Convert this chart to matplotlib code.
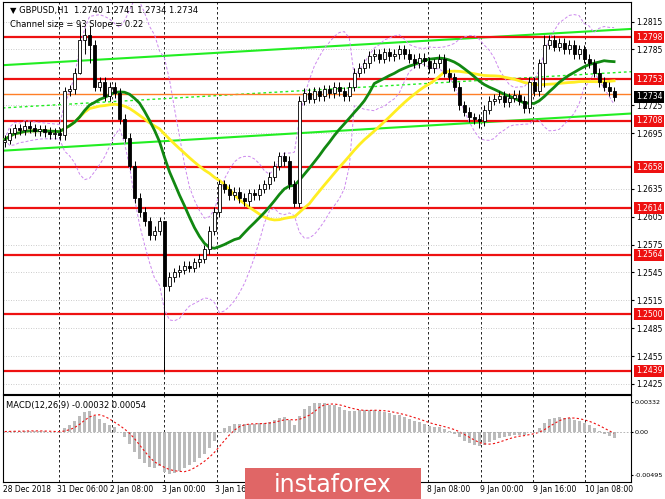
import numpy as np
import pandas as pd
import matplotlib
matplotlib.use("Agg")
import matplotlib.pyplot as plt
from matplotlib.patches import Rectangle

closes = [1.2688,1.2695,1.2700,1.2698,1.2703,1.2700,1.2697,1.2699,1.2696,1.2694,1.2695,1.2693,
          1.2740,1.2742,1.2760,1.2795,1.2800,1.2790,
          1.2745,1.2750,1.2735,1.2745,1.2738,
          1.2710,1.2690,1.2660,1.2625,1.2610,1.2600,1.2585,1.2590,1.2600,
          1.2530,1.2540,1.2545,1.2548,1.2552,1.2550,1.2556,1.2560,
          1.2570,1.2590,1.2610,1.2640,1.2635,1.2628,1.2632,1.2625,
          1.2622,1.2630,1.2628,1.2635,1.2640,1.2648,1.2660,1.2670,1.2665,1.2640,1.2620,
          1.2730,1.2738,1.2732,1.2740,1.2735,1.2742,1.2738,1.2745,1.2740,1.2735,
          1.2745,1.2760,1.2765,1.2770,1.2778,1.2780,1.2775,1.2782,1.2778,1.2780,1.2785,
          1.2780,1.2775,1.2770,1.2776,1.2772,1.2765,1.2770,1.2775,1.2760,1.2755,1.2745,
          1.2725,1.2718,1.2712,1.2710,1.2708,1.2720,
          1.2730,1.2732,1.2735,1.2728,1.2733,1.2736,1.2730,1.2722,
          1.2750,1.2740,1.2770,1.2790,
          1.2795,1.2788,1.2792,1.2785,1.2790,1.2780,1.2785,1.2775,1.2770,
          1.2760,1.2750,1.2745,1.2740,1.2734]
first_open = 1.2685
extremes = {15: (1.2812, 1.2758), 16: (1.2808, 1.2780), 32: (1.2600, 1.2439), 17: (1.2810, 1.2770),
            59: (1.2735, 1.2615), 108: (1.2800, 1.2745), 95: (1.2715, 1.2700)}
levels = [1.2798, 1.2753, 1.2708, 1.2658, 1.2614, 1.2564, 1.2500, 1.2439]
current = 1.2734
yticks = [1.2815,1.2785,1.2725,1.2695,1.2635,1.2605,1.2575,1.2545,1.2515,1.2485,1.2455,1.2425]
date_labels = ["28 Dec 2018","31 Dec 06:00","2 Jan 08:00","3 Jan 00:00","3 Jan 16:00",
               "8 Jan 08:00","9 Jan 00:00","9 Jan 16:00","10 Jan 08:00"]
date_px = [3, 57, 110, 162, 215, 427, 480, 533, 585]

c = np.array(closes)
o = np.concatenate([[first_open], c[:-1]])
n = len(c)
hi = np.maximum(o, c) + 0.0005
lo = np.minimum(o, c) - 0.0005
for k, (h, l) in extremes.items():
    hi[k] = h; lo[k] = l
x = np.arange(n)
px2x = lambda p: (p - 2) / 612 * (n - 1)

s = pd.Series(c)
ma_g = s.rolling(16, min_periods=1).mean()
ma_y = s.rolling(30, min_periods=1).mean()
bb_m = s.rolling(12, min_periods=1).mean()
bb_s = s.rolling(12, min_periods=1).std().fillna(0)
macd = s.ewm(span=7).mean() - s.ewm(span=16).mean()
sig = macd.rolling(5, min_periods=1).mean()

fig = plt.figure(figsize=(6.65, 4.99), dpi=100)
R = 631 / 665
ax = fig.add_axes([0.004, 0.21, R - 0.004, 0.786])
ax2 = fig.add_axes([0.004, 0.034, R - 0.004, 0.174])
xmin, xmax = px2x(0), px2x(631)
for a in (ax, ax2):
    a.set_xlim(xmin, xmax)
    a.set_xticks([])
    for sp in a.spines.values():
        sp.set_color("black"); sp.set_linewidth(0.8)
    for p in date_px[1:]:
        a.axvline(px2x(p), color="black", ls=(0, (3, 3)), lw=0.6, zorder=0)

ax.set_ylim(1.2414, 1.2836)
for t in yticks:
    ax.axhline(t, color="#bbbbbb", ls=(0, (1, 2)), lw=0.6, zorder=0)
ax.yaxis.tick_right()
ax.set_yticks(yticks)
ax.set_yticklabels([f"{t:.4f}" for t in yticks], fontsize=5.5)
ax.tick_params(axis="y", length=2, pad=2)

ax.plot([xmin, xmax], [1.2768, 1.2807], color="#22ee22", lw=1.5, zorder=2)
ax.plot([xmin, xmax], [1.2676, 1.2716], color="#22ee22", lw=1.5, zorder=2)
ax.plot([xmin, xmax], [1.2722, 1.2761], color="#22ee22", lw=1, ls=(0, (2, 2)), zorder=2)

for L in levels:
    ax.axhline(L, color="#ee1111", lw=1.6, zorder=2)
    ax.text(1.008, L, f"{L:.4f}", transform=ax.get_yaxis_transform(), fontsize=5.5, color="white",
            va="center", ha="left", bbox=dict(boxstyle="square,pad=0.2", fc="#ee1111", ec="none"))
ax.axhline(1.2737, color="#ff7f27", lw=1, zorder=2)
ax.text(1.008, current, f"{current:.4f}", transform=ax.get_yaxis_transform(), fontsize=5.5, color="white",
        va="center", ha="left", bbox=dict(boxstyle="square,pad=0.2", fc="black", ec="none"))

ax.plot(x, bb_m + 2 * bb_s, color="#cc88ee", lw=0.7, ls=(0, (3, 2)))
ax.plot(x, bb_m - 2 * bb_s, color="#cc88ee", lw=0.7, ls=(0, (3, 2)))
ax.plot(x, ma_y, color="#ffee22", lw=2, zorder=3)
ax.plot(x, ma_g, color="#118811", lw=2, zorder=3)

w = 0.6
for i in range(n):
    ax.vlines(i, lo[i], hi[i], color="black", lw=0.7, zorder=4)
    up = c[i] >= o[i]
    ax.add_patch(Rectangle((i - w / 2, min(o[i], c[i])), w, max(abs(c[i] - o[i]), 0.00005),
                           fc="white" if up else "black", ec="black", lw=0.6, zorder=5))

ax.text(0.012, 0.99, "▼ GBPUSD,H1  1.2740 1.2741 1.2734 1.2734", transform=ax.transAxes, fontsize=6, va="top")
ax.text(0.012, 0.955, "Channel size = 93 Slope = 0.22", transform=ax.transAxes, fontsize=6, va="top")

ax2.set_ylim(-0.0057, 0.0041)
ax2.bar(x, macd, width=0.6, color="#bbbbbb")
ax2.plot(x, sig, color="#ee1111", lw=0.8, ls=(0, (2, 2)))
ax2.axhline(0, color="#aaaaaa", lw=0.6, ls=(0, (2, 2)))
ax2.yaxis.tick_right()
ax2.set_yticks([0.00332, 0.0, -0.00495])
ax2.set_yticklabels(["0.00332", "0.00", "-0.00495"], fontsize=4.6)
ax2.tick_params(axis="y", length=1.5, pad=1)
ax2.text(0.006, 0.93, "MACD(12,26,9) -0.00032 0.00054", transform=ax2.transAxes, fontsize=6, va="top")

for lab, p in zip(date_labels, date_px):
    fig.text(p / 665, 1 - 489 / 499, lab, fontsize=5.5, ha="left", va="center")

fig.patches.append(Rectangle((245 / 665, 0), 176 / 665, 31 / 499, transform=fig.transFigure,
                             fc="#e06666", ec="none", zorder=10))
fig.text(333 / 665, 14 / 499, "instaforex", color="white", fontsize=17, ha="center", va="center", zorder=11)

fig.savefig("out.png", dpi=100)
